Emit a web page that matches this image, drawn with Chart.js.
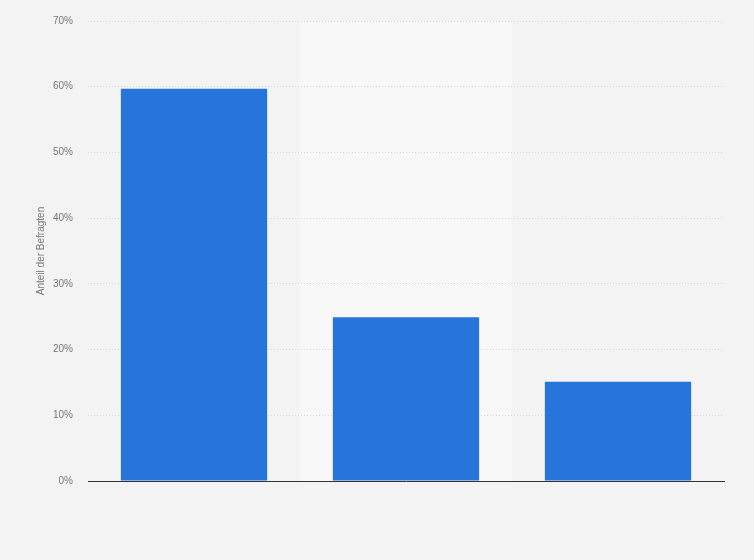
<!DOCTYPE html>
<html>
<head>
<meta charset="utf-8">
<script src="https://cdn.jsdelivr.net/npm/chart.js@4/dist/chart.umd.min.js"></script>
<style>
html,body{margin:0;padding:0;background:#f3f3f3;}
#wrap{width:754px;height:560px;position:relative;}
</style>
</head>
<body>
<div id="wrap"><canvas id="c" width="754" height="560"></canvas></div>
<script>
const categories = ["", "", ""];
const values = [59.7, 24.9, 15.1];
const yTicks = [0, 10, 20, 30, 40, 50, 60, 70];
const yTitle = "Anteil der Befragten";

const bandPlugin = {
  id: 'bands',
  beforeDraw(chart) {
    const {ctx, chartArea, scales} = chart;
    const x = scales.x;
    ctx.save();
    ctx.fillStyle = '#f3f3f3';
    ctx.fillRect(0, 0, chart.width, chart.height);
    const n = categories.length;
    const w = (chartArea.right - chartArea.left) / n;
    for (let i = 0; i < n; i++) {
      if (i % 2 === 1) {
        const cx = x.getPixelForValue(i);
        ctx.fillStyle = '#f8f8f8';
        ctx.fillRect(cx - w / 2, chartArea.top, w, chartArea.bottom - chartArea.top);
      }
    }
    ctx.restore();
  }
};

new Chart(document.getElementById('c'), {
  type: 'bar',
  data: {
    labels: categories,
    datasets: [{
      data: values,
      backgroundColor: '#2775db',
      borderWidth: 0,
      categoryPercentage: 1,
      barPercentage: 0.69
    }]
  },
  options: {
    responsive: false,
    animation: false,
    devicePixelRatio: 1,
    layout: { padding: { left: 35, right: 30, top: 20, bottom: 79 } },
    plugins: { legend: { display: false }, tooltip: { enabled: false } },
    scales: {
      x: {
        ticks: { display: false },
        grid: { display: false, drawTicks: false },
        border: { display: true, color: '#333333', width: 1 }
      },
      y: {
        min: 0, max: 70,
        afterBuildTicks(scale) { scale.ticks = yTicks.map(v => ({ value: v })); },
        afterFit(scale) { scale.width = 53; },
        ticks: {
          callback: v => v + '%',
          color: '#777777',
          font: { family: 'Arial, "Liberation Sans", sans-serif', size: 10 },
          padding: 15
        },
        grid: { color: '#d8d8d8', drawTicks: false, tickLength: 0 },
        border: { display: false, dash: [1, 2] },
        title: {
          display: true,
          text: yTitle,
          color: '#777777',
          font: { family: 'Arial, "Liberation Sans", sans-serif', size: 10 },
          padding: { top: 0, bottom: 0 }
        }
      }
    }
  },
  plugins: [bandPlugin]
});
</script>
</body>
</html>
